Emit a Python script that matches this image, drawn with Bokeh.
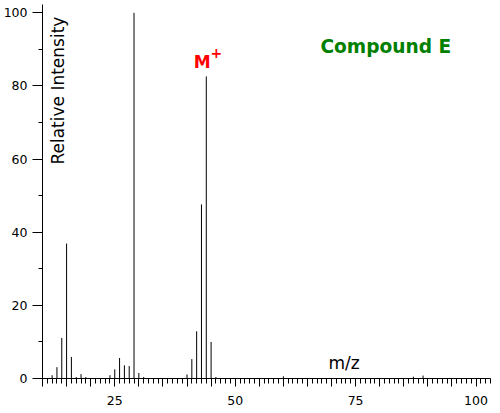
import math
from bokeh.plotting import figure
from bokeh.models import ColumnDataSource, FixedTicker, Label, Range1d
from bokeh.embed import file_html
from bokeh.resources import INLINE

# m/z values and relative intensities
mz = [12, 13, 14, 15, 16, 17, 18, 19, 24, 25, 26, 27, 28, 29, 30, 31,
      40, 41, 42, 43, 44, 45, 46, 60, 87, 89]
intensity = [0.9, 3.1, 11.1, 36.9, 5.9, 0.4, 1.2, 0.4, 0.9, 2.5, 5.6, 3.6, 3.4, 100.0, 1.5, 0.4,
             1.1, 5.3, 12.9, 47.6, 82.6, 10.0, 0.4, 0.6, 0.5, 0.8]

x_major = [v for v in range(0, 105, 5)]
x_labels = {v: (str(v) if v % 25 == 0 else "") for v in x_major}
x_minor = list(range(0, 106))
y_major = [0, 20, 40, 60, 80, 100]
y_minor = [10, 30, 50, 70, 90]

title_text = "Compound E"
ion_text = "M"
ion_sup = "+"
y_title = "Relative Intensity"
x_title = "m/z"

src = ColumnDataSource(dict(x=mz, y0=[0] * len(mz), y1=intensity))

p = figure(width=500, height=413, output_backend="svg", toolbar_location=None,
           x_range=Range1d(10, 103), y_range=Range1d(0, 102.27),
           min_border_left=42, min_border_right=10, min_border_top=4, min_border_bottom=35)
p.outline_line_color = None
p.xgrid.visible = False
p.ygrid.visible = False
p.background_fill_color = "white"
p.border_fill_color = "white"

p.segment(x0="x", y0="y0", x1="x", y1="y1", source=src, line_color="black", line_width=1)

# x axis
xa = p.xaxis[0]
xa.ticker = FixedTicker(ticks=x_major, minor_ticks=x_minor)
xa.major_label_overrides = x_labels
xa.major_tick_out = 8
xa.major_tick_in = 0
xa.minor_tick_out = 5
xa.minor_tick_in = 0
xa.major_label_standoff = 9
xa.major_label_text_font = "DejaVu Sans"
xa.major_label_text_font_size = "12.5px"
xa.major_label_text_color = "black"
xa.axis_line_color = "black"
xa.major_tick_line_color = "black"
xa.minor_tick_line_color = "black"

# y axis
ya = p.yaxis[0]
ya.ticker = FixedTicker(ticks=y_major, minor_ticks=y_minor)
ya.major_tick_out = 10
ya.major_tick_in = 0
ya.minor_tick_out = 4
ya.minor_tick_in = 0
ya.major_label_standoff = 5
ya.major_label_text_font = "DejaVu Sans"
ya.major_label_text_font_size = "12.5px"
ya.major_label_text_color = "black"
ya.axis_line_color = "black"
ya.major_tick_line_color = "black"
ya.minor_tick_line_color = "black"

p.add_layout(Label(x=13.3, y=58.5, text=y_title, angle=math.pi / 2,
                   text_align="left", text_baseline="middle",
                   text_font="DejaVu Sans", text_font_size="17px", text_color="black"))
p.add_layout(Label(x=72.6, y=4.2, text=x_title, text_align="center", text_baseline="middle",
                   text_font="DejaVu Sans", text_font_size="17px", text_color="black"))
p.add_layout(Label(x=67.7, y=90.9, text=title_text, text_align="left", text_baseline="middle",
                   text_font="DejaVu Sans", text_font_style="bold",
                   text_font_size="18.6px", text_color="#008000"))
p.add_layout(Label(x=43.13, y=86.6, text=ion_text, text_align="center", text_baseline="middle",
                   text_font="DejaVu Sans", text_font_style="bold",
                   text_font_size="17px", text_color="#ff0000"))
p.add_layout(Label(x=46.1, y=89.0, text=ion_sup, text_align="center", text_baseline="middle",
                   text_font="DejaVu Sans", text_font_style="bold",
                   text_font_size="14px", text_color="#ff0000"))

open("out.html", "w").write(file_html(p, INLINE))
